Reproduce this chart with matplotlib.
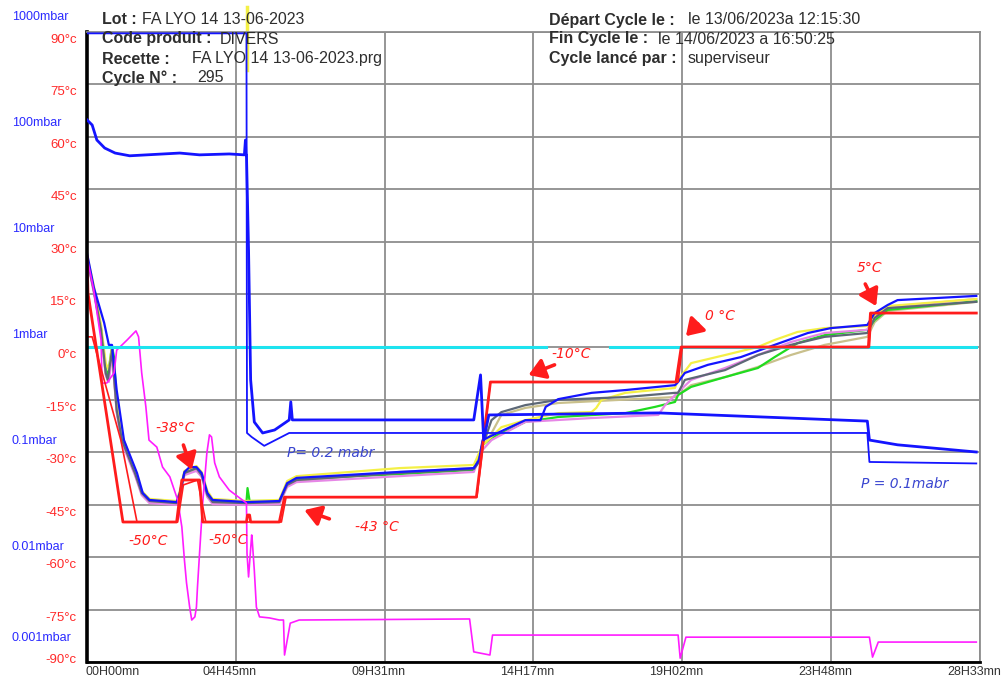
import matplotlib
matplotlib.use("Agg")
import matplotlib.pyplot as plt
from matplotlib import transforms

plt.rcParams['font.family'] = ['Liberation Sans', 'DejaVu Sans']

# ==========================
# === Axes / tick values ===
# ==========================
# time in minutes since cycle start
t_ticks = [0, 285.5, 571, 856.5, 1142, 1427.5, 1713]
t_labels = ['00H00mn', '04H45mn', '09H31mn', '14H17mn', '19H02mn', '23H48mn', '28H33mn']
temp_ticks = [90, 75, 60, 45, 30, 15, 0, -15, -30, -45, -60, -75, -90]
pressure_ticks = [1000, 100, 10, 1, 0.1, 0.01, 0.001]
pressure_labels = ['1000mbar', '100mbar', '10mbar', '1mbar', '0.1mbar', '0.01mbar', '0.001mbar']

# =====================
# === Series values ===
# =====================
# shelf temperature (two traces)
shelf_a_t = [0, 2, 69, 172, 182, 216, 222, 306, 308, 312, 314, 369, 379, 747, 774, 1130, 1140, 1499, 1503, 1706]
shelf_a_T = [25.7, 15.4, -50, -50, -38, -38, -50, -50, -48, -48, -50, -50, -42.9, -42.9, -10, -10, 0, 0, 9.7, 9.7]
shelf_b_t = [0, 10, 65, 96, 174, 185, 212, 228, 306, 373, 382, 748, 774, 1134, 1142, 1501, 1505, 1706]
shelf_b_T = [2.9, 2.9, -26.6, -50, -50, -39.4, -38, -50, -50, -50, -42.9, -42.9, -10, -10, 0, 0, 9.7, 9.7]

# 0 degC reference line (interrupted by the -10 label)
zero_t = [0, 880, None, 1004, 1706]
zero_T = [0, 0, None, 0, 0]

# product probes
blue_t = [0, 13, 33, 42, 48, 57, 71, 96, 107, 120, 172, 178, 187, 197, 210, 220, 231, 241, 306, 369,
          384, 402, 599, 742, 752, 759, 771, 841, 870, 880, 904, 968, 1033, 1128, 1134, 1147, 1191, 1254,
          1319, 1383, 1427, 1497, 1511, 1536, 1555, 1706]
blue_T = [26.9, 17.1, 6.9, 0.6, 0.6, -12.3, -26.6, -36, -41.7, -43.7, -44.3, -41.7, -35.7, -34.3, -34.3,
          -36, -41.7, -43.7, -44.3, -44, -38.9, -37.4, -35.7, -34.6, -32.3, -26.6, -25.7, -20.9, -20.9,
          -17.1, -14.9, -13.1, -12.3, -10.9, -10, -7.4, -5.1, -2.9, 0.6, 4, 5.4, 6.3, 9.7, 12, 13.4, 14.6]

gray_t = [0, 13, 27, 36, 40, 48, 57, 67, 92, 105, 120, 172, 178, 187, 210, 220, 231, 241, 306, 369,
          384, 402, 599, 742, 752, 759, 765, 776, 795, 841, 904, 1033, 1128, 1134, 1147, 1224, 1287,
          1350, 1415, 1497, 1511, 1536, 1706]
gray_T = [25.7, 16.3, 4.9, -7.4, -9.4, -0.9, -18, -26.6, -36, -41.7, -44, -44.6, -42.3, -36, -34.6,
          -36.6, -42.3, -44.3, -44.6, -44.3, -39.4, -38, -36, -34.9, -32.9, -27.1, -25.7, -20.9, -18.6,
          -16.6, -15.1, -14.3, -13.1, -13.1, -9.4, -6.6, -2.3, 0.6, 2.9, 4, 8.3, 11.1, 12.9]

yellow_t = [0, 13, 27, 36, 42, 48, 57, 67, 92, 105, 120, 172, 178, 187, 210, 220, 231, 241, 306, 369,
            384, 402, 599, 742, 759, 776, 795, 841, 904, 968, 977, 987, 1033, 1128, 1134, 1159, 1224,
            1287, 1319, 1363, 1415, 1497, 1511, 1536, 1706]
yellow_T = [26.3, 17.7, 6.3, -4.6, -6.6, 0.3, -15.1, -25.1, -35.1, -41.1, -43.4, -44, -41.1, -35.4, -34,
            -35.7, -41.1, -43.4, -44, -43.7, -38.3, -36.9, -34.6, -33.7, -28, -25.7, -22.9, -20.9,
            -18.9, -18.6, -17.4, -15.1, -13.1, -11.7, -9.4, -4.6, -2.3, 0, 2, 4.3, 5.4, 6, 9.1, 11.7, 13.7]
yellow_spike_t = [307, 307]
yellow_spike_T = [97, 79]

green_t = [0, 13, 27, 36, 40, 48, 52, 57, 67, 92, 105, 120, 172, 178, 187, 210, 220, 231, 241, 306,
           308, 312, 369, 384, 402, 599, 742, 759, 776, 841, 904, 1033, 1090, 1128, 1134, 1159, 1224,
           1287, 1319, 1363, 1415, 1497, 1511, 1536, 1706]
green_T = [25.4, 16.6, 5.4, -6.3, -8.6, 0.3, -3, -16, -25.7, -35.7, -41.4, -43.7, -44.3, -42, -35.7,
           -34.6, -36.3, -42, -44, -44.3, -40.3, -44, -44, -39.1, -37.7, -36.3, -35.1, -28, -26, -21.4,
           -20, -18.9, -17.1, -15.7, -13.7, -11.4, -8.6, -6, -2.9, 1.1, 3.4, 4.9, 7.7, 10.6, 13.1]

violet_t = [0, 13, 27, 36, 42, 48, 57, 67, 92, 105, 120, 172, 178, 187, 210, 220, 231, 241, 306, 369,
            384, 402, 599, 742, 759, 776, 841, 968, 1096, 1109, 1134, 1159, 1224, 1287, 1350, 1415,
            1497, 1511, 1536, 1706]
violet_T = [25.1, 15.7, 4.3, -8, -10, -2, -18.6, -27.4, -36.6, -42.3, -44.6, -45.1, -42.9, -36.6, -35.4,
            -37.1, -42.9, -44.9, -45.1, -44.9, -40, -38.6, -36.9, -35.7, -29.4, -26.6, -21.4, -20.3,
            -19.4, -16.6, -12.9, -9.4, -6, -2.3, 1.4, 4, 4.9, 8.3, 11.4, 13.7]

khaki_t = [0, 13, 27, 36, 40, 48, 57, 67, 92, 105, 120, 172, 178, 187, 210, 220, 231, 241, 306, 369,
           384, 402, 599, 742, 759, 771, 795, 841, 904, 1128, 1134, 1159, 1224, 1287, 1350, 1415, 1497,
           1511, 1536, 1706]
khaki_T = [25.7, 16, 4.6, -7.7, -9.7, -1.1, -18.3, -26.9, -36.3, -42, -44.3, -44.9, -42.6, -36.3, -34.9,
           -36.9, -42.6, -44.6, -44.9, -44.6, -39.7, -38.3, -35.7, -34.6, -28, -26, -19.4, -17.4, -16,
           -14.3, -13.7, -10.9, -8.6, -5.7, -2.3, 0.6, 2.9, 7.1, 10.3, 12.9]

# condenser temperature
cond_t = [0, 13, 27, 29, 38, 52, 57, 77, 94, 99, 105, 113, 119, 134, 145, 159, 174, 182, 187, 191,
          197, 201, 207, 210, 212, 216, 222, 230, 235, 239, 245, 254, 273, 298, 306, 307, 310, 316, 317,
          321, 325, 331, 350, 369, 377, 379, 390, 407, 734, 742, 773, 778, 1134, 1138, 1149, 1501, 1507,
          1518, 1706]
cond_T = [25.7, 16.3, 2, -10.3, -10.3, -7.4, -0.9, 2, 4.6, 2.9, -7.4, -17.1, -26.6, -28.6, -34.3, -37.1,
          -43.7, -51.4, -60.9, -67.4, -74.3, -78, -77.1, -74.3, -68.6, -58.9, -44.6, -30.3, -25.1, -25.7,
          -33.1, -37.1, -40.9, -43.7, -44.6, -58.9, -65.7, -53.7, -55.1, -63.7, -74.3, -77.1, -77.4, -78,
          -78, -88, -78.9, -78, -77.7, -87.1, -88, -82.3, -82.3, -88.9, -82.9, -82.9, -88.6, -84.3, -84.3]

# chamber pressure (mbar)
pirani_t = [0, 10, 19, 34, 54, 82, 178, 216, 273, 302, 304, 305, 306, 310, 314, 321, 337, 360, 388, 391,
            394, 742, 755, 761, 771, 1096, 1497, 1501, 1555, 1706]
pirani_P = [107, 95.6, 69, 58, 52, 49, 52, 50, 51, 50, 69, 50, 50, 6.3, 0.377, 0.151, 0.119, 0.127,
            0.158, 0.234, 0.158, 0.158, 0.42, 0.102, 0.176, 0.184, 0.154, 0.102, 0.092, 0.0787]
capa_t = [0, 306, 307, 316, 340, 388, 1497, 1501, 1706]
capa_P = [700, 700, 0.119, 0.109, 0.090, 0.119, 0.119, 0.0634, 0.0614]

# ==============
# === Figure ===
# ==============
RED = '#ff1c1c'
BLUE = '#1414ff'
GRID = '#8e8e8e'

fig = plt.figure(figsize=(10.03, 6.82), dpi=100)
ax = fig.add_axes([0.0867, 0.0293, 0.8903, 0.9238])
ax.set_xlim(0, 1713)
ax.set_ylim(-90, 90)
ax.set_xticks(t_ticks)
ax.set_yticks(temp_ticks)
ax.tick_params(length=0, labelleft=False, labelbottom=False)
ax.grid(True, color=GRID, lw=1.3)
ax.set_axisbelow(True)
for s in ['top', 'right']:
    ax.spines[s].set_color(GRID)
    ax.spines[s].set_linewidth(1.3)
ax.spines['left'].set_linewidth(2.6)
ax.spines['bottom'].set_linewidth(2.0)

# pressure on a log scale sharing the same frame
ax2 = ax.twinx()
ax2.set_yscale('log')
ax2.set_ylim(10 ** -3.085, 10 ** 2.858)
ax2.minorticks_off()
ax2.set_yticks([])
ax2.tick_params(which='both', length=0, labelright=False)
for s in ax2.spines.values():
    s.set_visible(False)

ax2.plot(capa_t, capa_P, color=BLUE, lw=1.3)
ax2.plot(pirani_t, pirani_P, color=BLUE, lw=2.0)

ax.plot(khaki_t, khaki_T, color='#c9c08c', lw=1.6)
ax.plot(green_t, green_T, color='#1fdc1f', lw=1.6)
ax.plot(violet_t, violet_T, color='#e687e6', lw=1.6)
ax.plot(yellow_t, yellow_T, color='#f4f046', lw=1.6)
ax.plot(yellow_spike_t, yellow_spike_T, color='#f4f046', lw=2.5, clip_on=False)
ax.plot(gray_t, gray_T, color='#5d6876', lw=1.6)
ax.plot(blue_t, blue_T, color=BLUE, lw=1.6)
ax.plot(cond_t, cond_T, color='#ff1cff', lw=1.2)
ax.plot(zero_t, zero_T, color='#1ee3ef', lw=2.2)
ax.plot(shelf_b_t, shelf_b_T, color=RED, lw=1.2)
ax.plot(shelf_a_t, shelf_a_T, color=RED, lw=2.0)

# left scale labels
for T in temp_ticks:
    dy = 2 if T == -90 else -8
    ax.annotate(f'{T}°c', xy=(0, T), xycoords=('axes fraction', 'data'), xytext=(-10, dy),
                textcoords='offset pixels', ha='right', va='center', color='#ff2a2a', fontsize=9.5)
ptrans = transforms.blended_transform_factory(ax.transAxes, ax2.transData)
for P, lab in zip(pressure_ticks, pressure_labels):
    dy = 15 if P == 0.001 else 0
    ax.annotate(lab, xy=(0, P), xycoords=ptrans, xytext=(-75, dy), textcoords='offset pixels',
                ha='left', va='center', color='#2a2aff', fontsize=9, annotation_clip=False)

# time labels
for i, (t, lab) in enumerate(zip(t_ticks, t_labels)):
    ax.annotate(lab, xy=(t, 0), xycoords=('data', 'axes fraction'),
                xytext=(-1 if i == 0 else -6, -10), textcoords='offset pixels',
                ha='left' if i == 0 else 'center', va='center', color='#333333', fontsize=9,
                annotation_clip=False)

# header
hdr = dict(fontsize=11.5, color='#2e2e2e', va='center')
def fig_txt(x, y, s, bold=False):
    fig.text(x / 1003, 1 - y / 682, s, fontweight='bold' if bold else 'normal', **hdr)

fig_txt(102, 19, 'Lot :', True)
fig_txt(142, 19, 'FA LYO 14 13-06-2023')
fig_txt(102, 39, 'Code produit :', True)
fig_txt(220, 39, 'DIVERS')
fig_txt(102, 59, 'Recette :', True)
fig_txt(192, 59, 'FA LYO 14 13-06-2023.prg')
fig_txt(102, 78, 'Cycle N° :', True)
fig_txt(197, 78, '295')
fig_txt(549, 20, 'Départ Cycle le :', True)
fig_txt(688, 20, 'le 13/06/2023a 12:15:30')
fig_txt(549, 39, 'Fin Cycle le :', True)
fig_txt(658, 39, 'le 14/06/2023 a 16:50:25')
fig_txt(549, 59, 'Cycle lancé par :', True)
fig_txt(688, 59, 'superviseur')

# hand-written notes
note = dict(fontsize=10, style='italic', family='DejaVu Sans', ha='center', va='center')
arrow = dict(arrowstyle='-|>,head_length=0.7,head_width=0.45', color=RED, lw=2.6,
             shrinkA=0, shrinkB=0, mutation_scale=14)
ax.text(170, -23.1, '-38°C', color=RED, **note)
ax.annotate('', xy=(201, -35.1), xytext=(185, -28), arrowprops=arrow)
ax.text(117, -55.4, '-50°C', color=RED, **note)
ax.text(270, -55.1, '-50°C', color=RED, **note)
ax.text(556, -51.4, '-43 °C', color=RED, **note)
ax.annotate('', xy=(417, -46.6), xytext=(465, -49.1), arrowprops=arrow)
ax.text(929, -2, '-10°C', color=RED, **note)
ax.annotate('', xy=(847, -8), xytext=(897, -5.1), arrowprops=arrow)
ax.text(1214, 8.9, '0 °C', color=RED, **note)
ax.annotate('', xy=(1149, 3.1), xytext=(1172, 6.6), arrowprops=arrow)
ax.text(1501, 22.6, '5°C', color=RED, **note)
ax.annotate('', xy=(1514, 11.7), xytext=(1493, 18), arrowprops=arrow)
ax.text(467, -30.3, 'P= 0.2 mabr', color='#3a46d0', **note)
ax.text(1568, -39.1, 'P = 0.1mabr', color='#3a46d0', **note)

fig.savefig('out.png', dpi=100)
